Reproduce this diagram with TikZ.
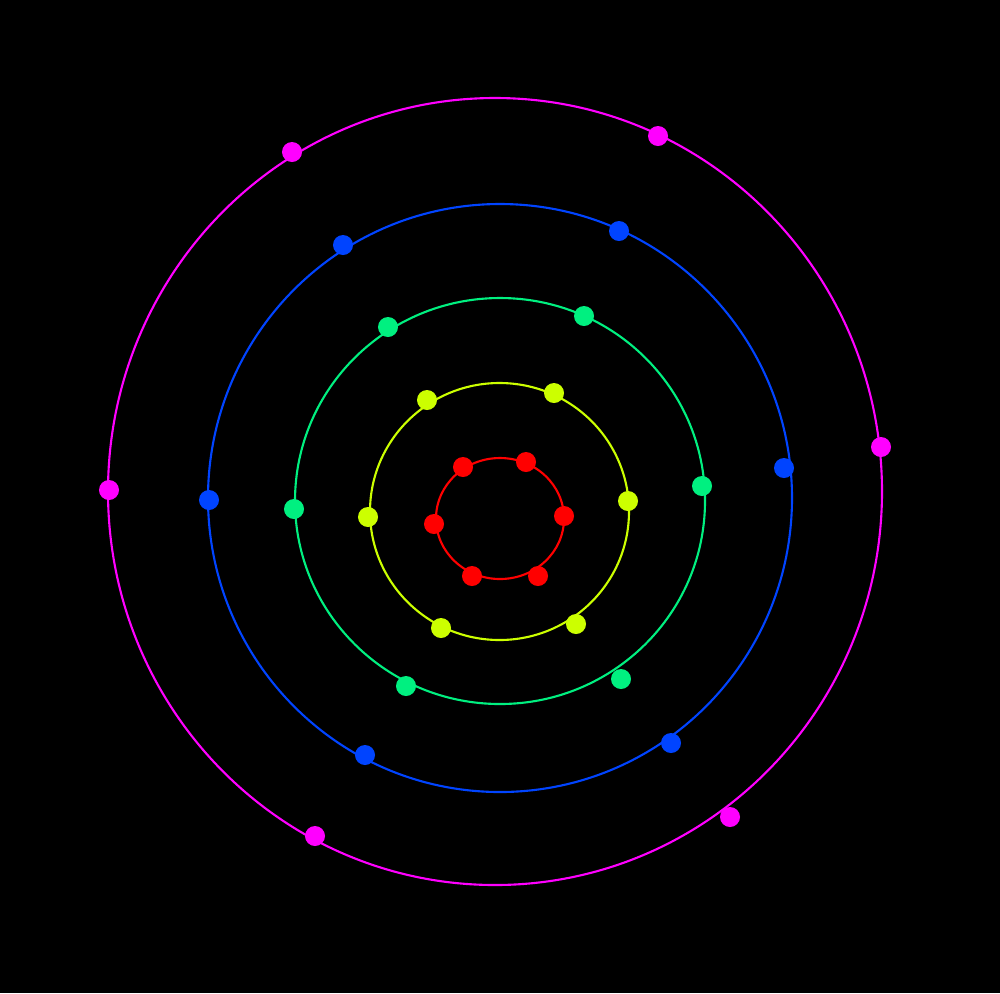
\documentclass[tikz,border=0pt]{standalone}
\definecolor{cred}{HTML}{FF0000}
\definecolor{cyel}{HTML}{CCFF00}
\definecolor{cgrn}{HTML}{00F080}
\definecolor{cblu}{HTML}{0044FF}
\definecolor{cmag}{HTML}{FF00FF}
\begin{document}
\begin{tikzpicture}[x=0.01cm,y=-0.01cm,
  orbit/.style={line width=0.6pt},
  dot/.style={circle,fill=#1,inner sep=0pt,minimum size=0.2cm}]
\fill[black] (0,0) rectangle (1000,993);
\useasboundingbox (0,0) rectangle (1000,993);
% orbits
\draw[orbit,cred] (500,518.5) ellipse [x radius=64,y radius=60.5];
\draw[orbit,cyel] (499.5,511.5) ellipse [x radius=129.5,y radius=128.5];
\draw[orbit,cgrn] (500,501) ellipse [x radius=205,y radius=203];
\draw[orbit,cblu] (500,498) ellipse [x radius=292,y radius=294];
\draw[orbit,cmag] (495,491.5) ellipse [x radius=387,y radius=393.5];
% red
\node[dot=cred] (r1) at (463,467) {};
\node[dot=cred] (r2) at (526,462) {};
\node[dot=cred] (r3) at (564,516) {};
\node[dot=cred] (r4) at (538,576) {};
\node[dot=cred] (r5) at (472,576) {};
\node[dot=cred] (r6) at (434,524) {};
% yellow
\node[dot=cyel] (y1) at (427,400) {};
\node[dot=cyel] (y2) at (554,393) {};
\node[dot=cyel] (y3) at (628,501) {};
\node[dot=cyel] (y4) at (576,624) {};
\node[dot=cyel] (y5) at (441,628) {};
\node[dot=cyel] (y6) at (368,517) {};
% green
\node[dot=cgrn] (g1) at (388,327) {};
\node[dot=cgrn] (g2) at (584,316) {};
\node[dot=cgrn] (g3) at (702,486) {};
\node[dot=cgrn] (g4) at (621,679) {};
\node[dot=cgrn] (g5) at (406,686) {};
\node[dot=cgrn] (g6) at (294,509) {};
% blue
\node[dot=cblu] (b1) at (343,245) {};
\node[dot=cblu] (b2) at (619,231) {};
\node[dot=cblu] (b3) at (784,468) {};
\node[dot=cblu] (b4) at (671,743) {};
\node[dot=cblu] (b5) at (365,755) {};
\node[dot=cblu] (b6) at (209,500) {};
% magenta
\node[dot=cmag] (m1) at (292,152) {};
\node[dot=cmag] (m2) at (658,136) {};
\node[dot=cmag] (m3) at (881,447) {};
\node[dot=cmag] (m4) at (730,817) {};
\node[dot=cmag] (m5) at (315,836) {};
\node[dot=cmag] (m6) at (109,490) {};
\end{tikzpicture}
\end{document}
